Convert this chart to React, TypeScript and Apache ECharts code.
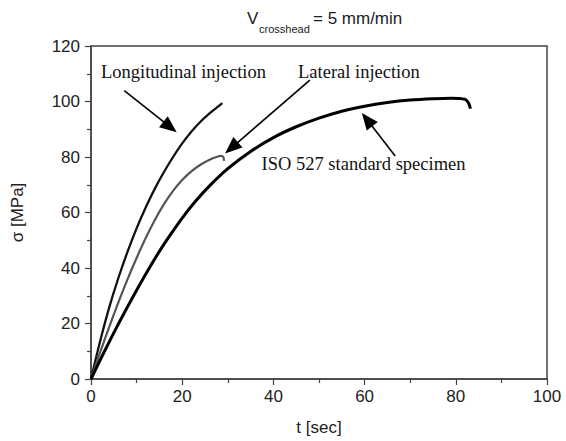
import React, { useEffect, useRef } from "react";
import * as echarts from "echarts";

// Stress-time curves (t in sec, sigma in MPa)
const longT = [0, 2, 4, 6, 8, 10, 12, 14, 16, 18, 20, 22, 24, 26, 28, 28.8];
const longS = [0, 13.6, 25.8, 36.4, 45.8, 54.3, 61.8, 68.6, 74.6, 80.0, 84.9, 89.1, 92.7, 95.7, 98.3, 99.4];
const latT = [0, 2, 4, 6, 8, 10, 12, 14, 16, 18, 20, 22, 24, 26, 27.5, 28.5, 29.0, 29.2];
const latS = [0, 9.6, 18.8, 27.6, 35.9, 43.6, 50.8, 57.3, 63.0, 67.8, 71.7, 74.8, 77.2, 79.0, 80.0, 80.4, 80.0, 78.6];
const isoT = [0, 2, 4, 6, 8, 10, 12.5, 15, 17.5, 20, 23, 26, 30, 35, 40, 45, 50, 55, 60, 65, 70, 75, 79, 82, 82.8, 83.2];
const isoS = [0, 6.8, 13.4, 19.8, 26.0, 32.0, 39.2, 46.0, 52.2, 58.0, 64.2, 69.6, 75.8, 82.0, 87.0, 90.9, 94.0, 96.5, 98.3, 99.6, 100.5, 101.0, 101.2, 100.8, 99.5, 97.4];

// Annotations (data coordinates)
const noteTexts = ["Longitudinal injection", "Lateral injection", "ISO 527 standard specimen"];
const noteAt = [[2.2, 110.6], [45.4, 110.6], [37.4, 77.4]];
const arrowFrom = [[7.3, 103.9], [48.0, 107.7], [66.7, 80.4]];
const arrowTo = [[18.8, 88.9], [29.4, 81.3], [59.4, 95.9]];

const SANS = "'Liberation Sans', Arial, sans-serif";
const SERIF = "'Liberation Serif', 'Times New Roman', serif";

const zip = (a: number[], b: number[]) => a.map((v, i) => [v, b[i]]);

export default function App() {
  const ref = useRef<HTMLDivElement>(null);
  useEffect(() => {
    const chart = echarts.init(ref.current!, null, { renderer: "svg" });
    const axisCommon = {
      axisLine: { show: true, lineStyle: { color: "#444", width: 1.5 } },
      axisTick: { show: true, inside: false, length: 6, lineStyle: { color: "#444", width: 1.2 } },
      minorTick: { show: true, splitNumber: 2, length: 4, lineStyle: { color: "#444", width: 1.2 } },
      splitLine: { show: false },
      nameTextStyle: { fontFamily: SANS, fontSize: 17, color: "#222" },
    };
    chart.setOption({
      animation: false,
      backgroundColor: "#fff",
      grid: { left: 91, right: 19, top: 46, bottom: 59, show: true, borderColor: "#444", borderWidth: 1.5, backgroundColor: "transparent" },
      xAxis: {
        type: "value",
        min: 0,
        max: 100,
        interval: 20,
        name: "t [sec]",
        nameLocation: "middle",
        nameGap: 40,
        axisLabel: { fontFamily: SANS, fontSize: 17, color: "#222", margin: 9 },
        ...axisCommon,
      },
      yAxis: {
        type: "value",
        min: 0,
        max: 120,
        interval: 20,
        name: "σ [MPa]",
        nameLocation: "middle",
        nameGap: 65,
        axisLabel: { fontFamily: SANS, fontSize: 17, color: "#222", margin: 11 },
        ...axisCommon,
      },
      series: [
        { type: "line", data: zip(longT, longS), showSymbol: false, smooth: 0.3, lineStyle: { color: "#111", width: 2.3 } },
        { type: "line", data: zip(latT, latS), showSymbol: false, smooth: 0.3, lineStyle: { color: "#555", width: 2.2 } },
        { type: "line", data: zip(isoT, isoS), showSymbol: false, smooth: 0.3, lineStyle: { color: "#000", width: 3 } },
      ],
    });

    const px = (p: number[]) => chart.convertToPixel({ gridIndex: 0 }, p) as number[];
    const elements: any[] = [];
    noteTexts.forEach((t, i) => {
      const p = px(noteAt[i]);
      elements.push({
        type: "text",
        x: p[0],
        y: p[1],
        style: { text: t, fontFamily: SERIF, fontSize: 18.5, fill: "#111", textAlign: "left", textVerticalAlign: "middle" },
      });
      const a = px(arrowFrom[i]);
      const b = px(arrowTo[i]);
      const dx = b[0] - a[0];
      const dy = b[1] - a[1];
      const len = Math.hypot(dx, dy);
      const ux = dx / len;
      const uy = dy / len;
      const hl = 17;
      const hw = 7;
      const bx = b[0] - ux * hl;
      const by = b[1] - uy * hl;
      elements.push({
        type: "line",
        shape: { x1: a[0], y1: a[1], x2: bx + ux * 2, y2: by + uy * 2 },
        style: { stroke: "#000", lineWidth: 1.6 },
      });
      elements.push({
        type: "polygon",
        shape: { points: [[b[0], b[1]], [bx - uy * hw, by + ux * hw], [bx + uy * hw, by - ux * hw]] },
        style: { fill: "#000" },
      });
    });
    // Title: V_crosshead = 5 mm/min
    elements.push({ type: "text", x: 247, y: 18, style: { text: "V", fontFamily: SANS, fontSize: 17, fill: "#222", textVerticalAlign: "middle" } });
    elements.push({ type: "text", x: 259, y: 29, style: { text: "crosshead", fontFamily: SANS, fontSize: 11, fill: "#222", textVerticalAlign: "middle" } });
    elements.push({ type: "text", x: 313, y: 18, style: { text: "= 5 mm/min", fontFamily: SANS, fontSize: 17, fill: "#222", textVerticalAlign: "middle" } });
    chart.setOption({ graphic: elements });
    return () => chart.dispose();
  }, []);
  return <div ref={ref} style={{ position: "absolute", left: 0, top: 0, width: 566, height: 441 }} />;
}
